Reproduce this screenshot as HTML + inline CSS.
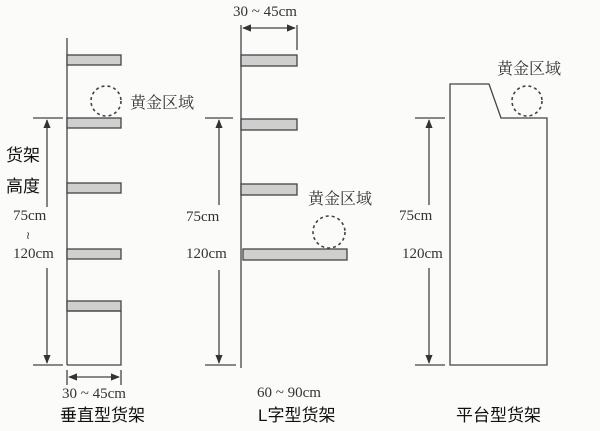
<!DOCTYPE html>
<html><head><meta charset="utf-8"><style>
html,body{margin:0;padding:0;background:#fbfbf9;}
svg{display:block;}
.s{font-family:"Liberation Serif","Noto Serif CJK SC",serif;font-size:15px;fill:#333;}
.c{font-family:"Liberation Serif","Noto Serif CJK SC",serif;font-size:16px;fill:#333;}
.t{font-family:"Liberation Sans","Noto Sans CJK SC",sans-serif;font-size:17px;fill:#111;}
</style></head><body>
<svg width="600" height="431" viewBox="0 0 600 431" xmlns="http://www.w3.org/2000/svg">
<defs>
<marker id="a" viewBox="0 0 10 10" refX="9" refY="5" markerWidth="7" markerHeight="7" orient="auto-start-reverse"><path d="M0,1 L10,5 L0,9 z" fill="#333"/></marker>
</defs>
<g stroke="#444" stroke-width="1.3" fill="none">
<line x1="67" y1="38" x2="67" y2="365"/>
<rect x="67" y="55" width="54" height="10" fill="#cfcfcf"/>
<rect x="67" y="118" width="54" height="10" fill="#cfcfcf"/>
<rect x="67" y="183" width="54" height="10" fill="#cfcfcf"/>
<rect x="67" y="249" width="54" height="10" fill="#cfcfcf"/>
<rect x="67" y="301" width="54" height="10" fill="#cfcfcf"/>
<polyline points="67,311 121,311 121,365 67,365"/>
<line x1="33" y1="118" x2="63" y2="118"/>
<line x1="33" y1="365" x2="63" y2="365"/>
<line x1="47" y1="207" x2="47" y2="120" marker-end="url(#a)"/>
<line x1="47" y1="268" x2="47" y2="363" marker-end="url(#a)"/>
<line x1="67" y1="370" x2="67" y2="385"/>
<line x1="121" y1="370" x2="121" y2="385"/>
<line x1="69" y1="377" x2="119" y2="377" marker-start="url(#a)" marker-end="url(#a)"/>
<circle cx="106" cy="101" r="15" stroke-dasharray="3,3" stroke-width="1.6"/>
<line x1="241" y1="25" x2="241" y2="368"/>
<rect x="241" y="55" width="56" height="11" fill="#cfcfcf"/>
<rect x="241" y="119" width="56" height="11" fill="#cfcfcf"/>
<rect x="241" y="184" width="56" height="11" fill="#cfcfcf"/>
<rect x="243" y="249" width="104" height="11" fill="#cfcfcf"/>
<line x1="297" y1="25" x2="297" y2="50"/>
<line x1="243" y1="28" x2="295" y2="28" marker-start="url(#a)" marker-end="url(#a)"/>
<line x1="205" y1="118" x2="233" y2="118"/>
<line x1="205" y1="365" x2="236" y2="365"/>
<line x1="219" y1="205" x2="219" y2="120" marker-end="url(#a)"/>
<line x1="219" y1="270" x2="219" y2="363" marker-end="url(#a)"/>
<circle cx="329" cy="232" r="16" stroke-dasharray="3,3" stroke-width="1.6"/>
<polygon points="450,84 489,84 501,118 547,118 547,365 450,365"/>
<line x1="415" y1="118" x2="445" y2="118"/>
<line x1="415" y1="365" x2="445" y2="365"/>
<line x1="429" y1="205" x2="429" y2="120" marker-end="url(#a)"/>
<line x1="429" y1="268" x2="429" y2="363" marker-end="url(#a)"/>
<circle cx="527" cy="101" r="15" stroke-dasharray="3,3" stroke-width="1.6"/>
</g>
<text class="c" x="130" y="108">黄金区域</text>
<text class="t" x="6" y="161">货架</text>
<text class="t" x="6" y="192">高度</text>
<text class="s" x="13" y="220">75cm</text>
<text class="s" x="26" y="239" style="font-size:11px">≀</text>
<text class="s" x="13" y="258">120cm</text>
<text class="s" x="62" y="398">30 ~ 45cm</text>
<text class="t" x="60" y="421">垂直型货架</text>
<text class="s" x="233" y="16">30 ~ 45cm</text>
<text class="s" x="186" y="221">75cm</text>
<text class="s" x="186" y="258">120cm</text>
<text class="c" x="308" y="204">黄金区域</text>
<text class="s" x="257" y="397">60 ~ 90cm</text>
<text class="t" x="258" y="421">L字型货架</text>
<text class="s" x="399" y="220">75cm</text>
<text class="s" x="402" y="258">120cm</text>
<text class="c" x="497" y="74">黄金区域</text>
<text class="t" x="456" y="421">平台型货架</text>
</svg>
</body></html>
